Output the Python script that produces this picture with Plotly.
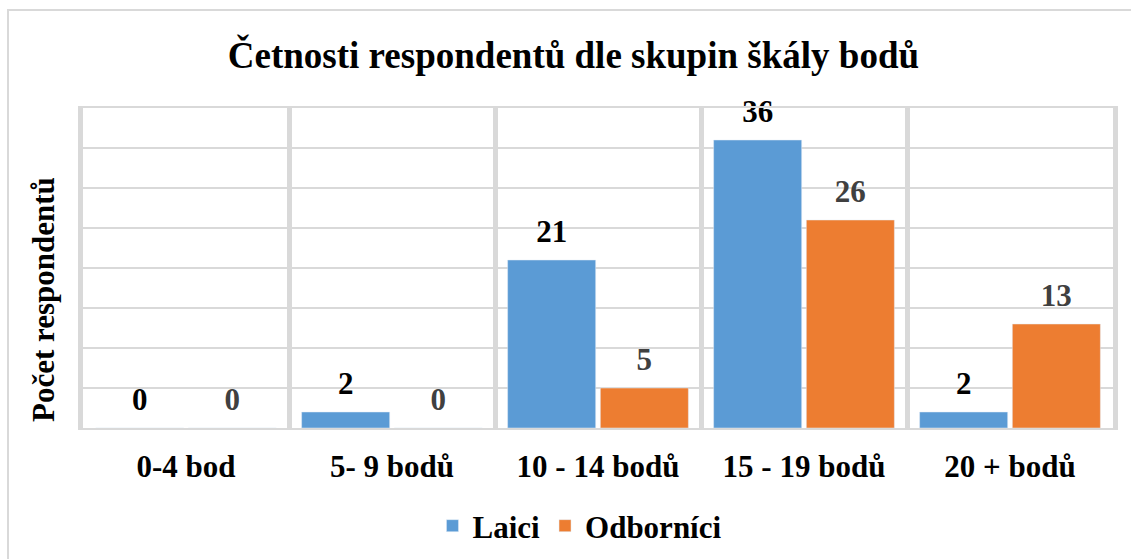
import plotly.graph_objects as go

categories = ["0-4 bod", "5- 9 bodů", "10 - 14 bodů", "15 - 19 bodů", "20 + bodů"]
laici = [0, 2, 21, 36, 2]
odbornici = [0, 0, 5, 26, 13]
series_names = ["Laici", "Odborníci"]

FONT = "Liberation Serif"
GRID = "#d9d9d9"
COLORS = ["#5b9bd5", "#ed7d31"]
LABEL_COLORS = ["#000000", "#404040"]

fig = go.Figure()
for name, vals, col in zip(series_names, [laici, odbornici], COLORS):
    fig.add_trace(go.Bar(
        name="<b>%s</b>" % name, x=categories, y=vals, marker_color=col,
        hoverinfo="x+y",
    ))
# value labels (placed by the library above each bar, grouped like the bars)
for name, vals, lcol in zip(series_names, [laici, odbornici], LABEL_COLORS):
    fig.add_trace(go.Scatter(
        x=categories, y=vals, mode="markers+text", text=vals,
        texttemplate="<b>%{text}</b>", textposition="top center",
        textfont=dict(family=FONT, size=31, color=lcol),
        marker=dict(size=15, opacity=0), showlegend=False,
        cliponaxis=False, hoverinfo="skip",
    ))

fig.update_layout(
    width=1131, height=559,
    margin=dict(l=83, r=18, t=108, b=131, autoexpand=False),
    paper_bgcolor="white", plot_bgcolor="white",
    barmode="group", bargap=0.10, bargroupgap=0.05,
    scattermode="group", scattergap=0.10,
    font=dict(family=FONT, color="#000000"),
    title=dict(text="<b>Četnosti respondentů dle skupin škály bodů</b>",
               font=dict(family=FONT, size=37, color="#000000"),
               x=0.507, xanchor="center", y=1 - 55 / 559, yanchor="middle"),
    legend=dict(orientation="h", x=0.4825, xanchor="center",
                yref="container", y=1 - 526 / 559, yanchor="middle",
                font=dict(family=FONT, size=31, color="#000000")),
    showlegend=True,
)
fig.update_xaxes(
    type="category", tickson="boundaries", showgrid=True, gridcolor=GRID, gridwidth=5,
    showline=True, mirror=True, linecolor=GRID, linewidth=2,
    ticks="outside", ticklen=18, tickcolor="rgba(0,0,0,0)", ticklabelstandoff=10,
    tickfont=dict(family=FONT, size=31, color="#000000"),
    ticktext=["<b>%s</b>" % c for c in categories], tickvals=categories,
    automargin=False,
)
fig.update_yaxes(
    range=[0, 40], dtick=5, showticklabels=False, showgrid=True,
    gridcolor=GRID, gridwidth=2, zeroline=False,
    showline=True, mirror=True, linecolor=GRID, linewidth=5,
    automargin=False,
)
fig.add_annotation(
    text="<b>Počet respondentů</b>", xref="paper", yref="paper",
    x=-0.0388, y=0.4, textangle=-90, showarrow=False,
    font=dict(family=FONT, size=31, color="#000000"),
    xanchor="center", yanchor="middle",
)
# outer chart border
fig.add_shape(type="rect", xref="paper", yref="paper",
              x0=-0.0728, x1=1.03, y0=-0.45, y1=1.3065,
              line=dict(color=GRID, width=2), layer="below")

fig.write_html("out.html", config={"displayModeBar": False},
               post_script="document.body.style.margin='0';")
